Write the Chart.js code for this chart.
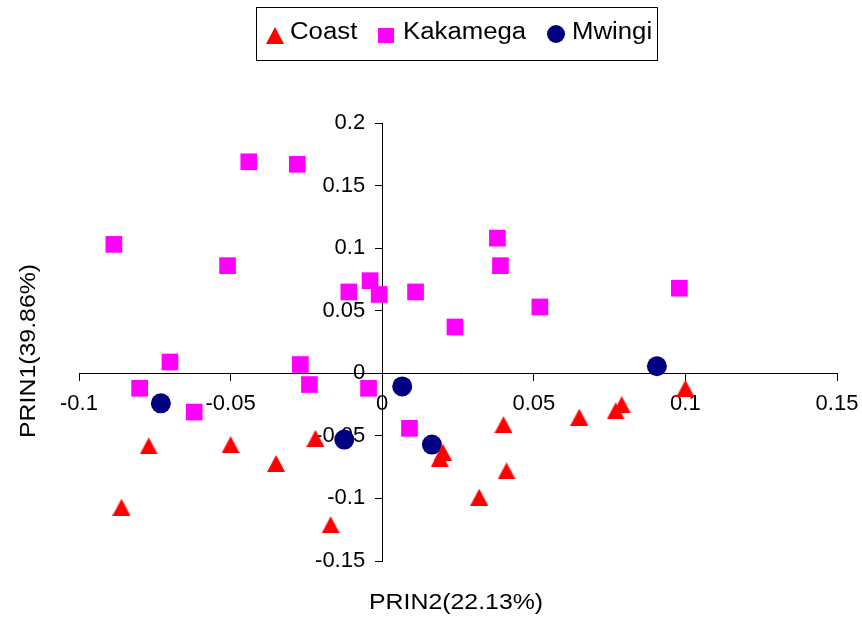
<!DOCTYPE html>
<html>
<head>
<meta charset="utf-8">
<script src="https://cdn.jsdelivr.net/npm/chart.js@4.4.1/dist/chart.umd.min.js"></script>
<style>
  html, body { margin: 0; padding: 0; background: #ffffff; }
  #wrap { position: relative; width: 862px; height: 619px; font-family: "Liberation Sans", Arial, sans-serif; }
  #chart { position: absolute; left: 0; top: 0; }
  .lbl { position: absolute; white-space: nowrap; color: #000; transform-origin: 0 0; }
  .legend-box { position: absolute; left: 256px; top: 7px; width: 400px; height: 52px; border: 1px solid #000; }
  .mk { position: absolute; }
</style>
</head>
<body>
<div id="wrap">
  <canvas id="chart" width="862" height="619"></canvas>

  <!-- Legend -->
  <div class="legend-box"></div>
  <div class="mk" style="left:266px; top:27px; width:0; height:0; border-left:9px solid transparent; border-right:9px solid transparent; border-bottom:17px solid #ff0000;"></div>
  <div class="lbl" id="legCoast" style="left:290px; top:20px; font-size:23px; line-height:23px; transform:scaleX(1.12);"></div>
  <div class="mk" style="left:378px; top:28px; width:16px; height:15px; background:#ff00ff;"></div>
  <div class="lbl" id="legKak" style="left:403px; top:20px; font-size:23px; line-height:23px; transform:scaleX(1.12);"></div>
  <div class="mk" style="left:547px; top:25px; width:18px; height:18px; border-radius:50%; background:#000080;"></div>
  <div class="lbl" id="legMw" style="left:572px; top:20px; font-size:23px; line-height:23px; transform:scaleX(1.12);"></div>

  <!-- Axis titles -->
  <div class="lbl" id="xTitle" style="left:369px; top:591px; font-size:22px; line-height:22px; transform:scaleX(1.13);"></div>
  <div class="lbl" id="yTitle" style="left:17px; top:438px; font-size:22px; line-height:22px; transform:rotate(-90deg) scaleX(1.13);"></div>
</div>

<script>
// Series names and axis titles
const seriesNames = ['Coast', 'Kakamega', 'Mwingi'];
const xAxisTitle = 'PRIN2(22.13%)';
const yAxisTitle = 'PRIN1(39.86%)';

// Tick values / labels
const xTickValues = [-0.1, -0.05, 0, 0.05, 0.1, 0.15];
const xTickLabels = ['-0.1', '-0.05', '0', '0.05', '0.1', '0.15'];
const yTickValues = [-0.15, -0.1, -0.05, 0, 0.05, 0.1, 0.15, 0.2];
const yTickLabels = ['-0.15', '-0.1', '-0.05', '0', '0.05', '0.1', '0.15', '0.2'];

// Coast
const coastX = [-0.086, -0.077, -0.050, -0.035, -0.022, -0.017, 0.020, 0.019, 0.040, 0.041, 0.032, 0.065, 0.079, 0.077, 0.100];
const coastY = [-0.107, -0.058, -0.057, -0.072, -0.052, -0.121, -0.063, -0.068, -0.041, -0.078, -0.099, -0.035, -0.025, -0.030, -0.012];

// Kakamega
const kakX = [-0.0885, -0.044, -0.028, -0.051, -0.011, -0.004, -0.001, 0.011, -0.070, -0.027, -0.080, -0.024, -0.0045, -0.062, 0.009, 0.038, 0.039, 0.024, 0.052, 0.098];
const kakY = [0.103, 0.169, 0.167, 0.086, 0.065, 0.074, 0.063, 0.065, 0.009, 0.007, -0.012, -0.009, -0.012, -0.031, -0.044, 0.108, 0.086, 0.037, 0.053, 0.068];

// Mwingi
const mwX = [-0.073, -0.0125, 0.0066, 0.0164, 0.0906];
const mwY = [-0.024, -0.053, -0.0105, -0.057, 0.0056];

document.getElementById('legCoast').textContent = seriesNames[0];
document.getElementById('legKak').textContent = seriesNames[1];
document.getElementById('legMw').textContent = seriesNames[2];
document.getElementById('xTitle').textContent = xAxisTitle;
document.getElementById('yTitle').textContent = yAxisTitle;

function toPoints(xs, ys) {
  return xs.map((x, i) => ({ x: x, y: ys[i] }));
}

// Excel-like triangle marker, centred on its bounding box
function triangleMarker(w, h, color) {
  const c = document.createElement('canvas');
  c.width = w; c.height = h;
  const g = c.getContext('2d');
  g.fillStyle = color;
  g.beginPath();
  g.moveTo(w / 2, 0);
  g.lineTo(w, h);
  g.lineTo(0, h);
  g.closePath();
  g.fill();
  return c;
}

// Chart.js does not subtract tick length + padding for y labels when the
// axis is positioned at a value, so push them left of the tick marks here.
const yLabelShift = {
  id: 'yLabelShift',
  beforeDraw(chart) {
    const s = chart.scales.y;
    const o = s.options;
    const off = o.grid.tickLength + o.ticks.padding;
    s.getLabelItems(chart.chartArea).forEach(item => {
      item.options.translation[0] -= off;
    });
  }
};

// keep label overhang from shrinking the plot area (layout padding handles it)
function noLabelPadding(axis) {
  axis.paddingLeft = 0;
  axis.paddingRight = 0;
  axis.paddingTop = 0;
  axis.paddingBottom = 0;
}

const tickFont = { family: '"Liberation Sans", Arial, sans-serif', size: 22 };

new Chart(document.getElementById('chart').getContext('2d'), {
  type: 'scatter',
  data: {
    datasets: [
      {
        label: seriesNames[0],
        data: toPoints(coastX, coastY),
        pointStyle: triangleMarker(18, 17, '#ff0000'),
        backgroundColor: '#ff0000',
        borderColor: '#ff0000'
      },
      {
        label: seriesNames[1],
        data: toPoints(kakX, kakY),
        pointStyle: 'rect',
        pointRadius: 11.8,
        pointBorderWidth: 0,
        backgroundColor: '#ff00ff',
        borderColor: '#ff00ff'
      },
      {
        label: seriesNames[2],
        data: toPoints(mwX, mwY),
        pointStyle: 'circle',
        pointRadius: 10,
        pointBorderWidth: 0,
        backgroundColor: '#000080',
        borderColor: '#000080'
      }
    ]
  },
  plugins: [yLabelShift],
  options: {
    responsive: false,
    animation: false,
    devicePixelRatio: 1,
    layout: { padding: { left: 79, right: 25, top: 123, bottom: 58 } },
    plugins: { legend: { display: false }, tooltip: { enabled: false } },
    elements: { point: { hoverRadius: 10 } },
    scales: {
      x: {
        type: 'linear',
        position: { y: 0 },
        min: -0.1,
        max: 0.15,
        afterBuildTicks: axis => { axis.ticks = xTickValues.map(v => ({ value: v })); },
        afterFit: noLabelPadding,
        ticks: {
          color: '#000',
          font: tickFont,
          padding: 10,
          maxRotation: 0,
          autoSkip: false,
          callback: (v, i) => xTickLabels[i]
        },
        grid: { display: true, drawOnChartArea: false, drawTicks: true, tickLength: 7, color: '#000', lineWidth: 1 },
        border: { display: true, color: '#000', width: 1 }
      },
      y: {
        type: 'linear',
        position: { x: 0 },
        min: -0.15,
        max: 0.2,
        afterBuildTicks: axis => { axis.ticks = yTickValues.map(v => ({ value: v })); },
        afterFit: noLabelPadding,
        ticks: {
          color: '#000',
          font: tickFont,
          padding: 10,
          autoSkip: false,
          callback: (v, i) => yTickLabels[i]
        },
        grid: { display: true, drawOnChartArea: false, drawTicks: true, tickLength: 7, color: '#000', lineWidth: 1 },
        border: { display: true, color: '#000', width: 1 }
      }
    }
  }
});
</script>
</body>
</html>
